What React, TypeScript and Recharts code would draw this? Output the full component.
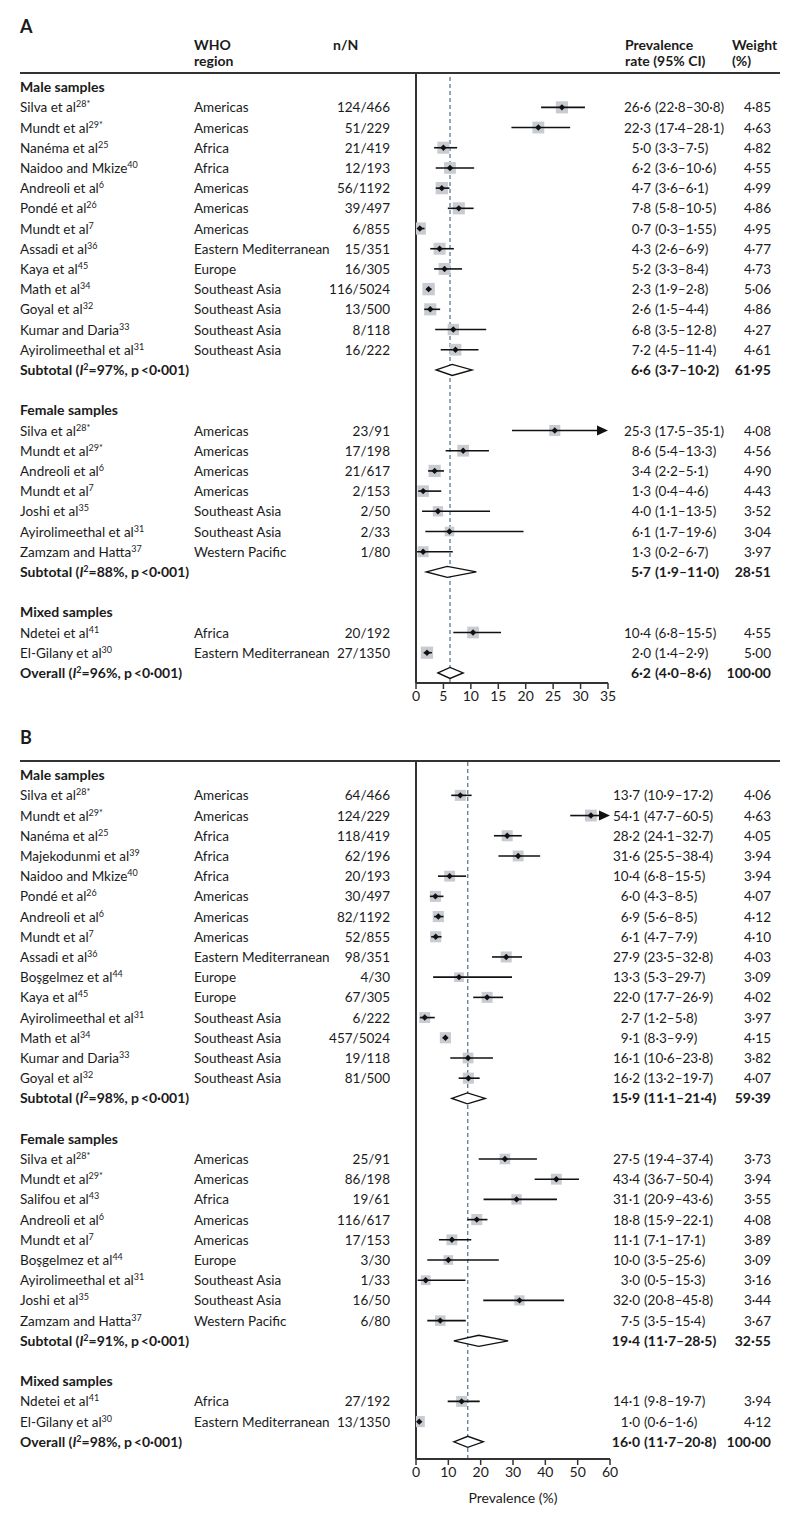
import React from 'react';
import { ScatterChart, Scatter, XAxis, YAxis, ReferenceLine } from 'recharts';

// [author, ref, WHO region, n/N, estimate, lower, upper, weight]
type Study = [string, string, string, string, number, number, number, number];
// [I², estimate, lower, upper, weight]
type Pooled = [number, number, number, number, number];

const maleA: Study[] = [
  ['Silva et al', '28*', 'Americas', '124/466', 26.6, 22.8, 30.8, 4.85],
  ['Mundt et al', '29*', 'Americas', '51/229', 22.3, 17.4, 28.1, 4.63],
  ['Nanéma et al', '25', 'Africa', '21/419', 5.0, 3.3, 7.5, 4.82],
  ['Naidoo and Mkize', '40', 'Africa', '12/193', 6.2, 3.6, 10.6, 4.55],
  ['Andreoli et al', '6', 'Americas', '56/1192', 4.7, 3.6, 6.1, 4.99],
  ['Pondé et al', '26', 'Americas', '39/497', 7.8, 5.8, 10.5, 4.86],
  ['Mundt et al', '7', 'Americas', '6/855', 0.7, 0.3, 1.55, 4.95],
  ['Assadi et al', '36', 'Eastern Mediterranean', '15/351', 4.3, 2.6, 6.9, 4.77],
  ['Kaya et al', '45', 'Europe', '16/305', 5.2, 3.3, 8.4, 4.73],
  ['Math et al', '34', 'Southeast Asia', '116/5024', 2.3, 1.9, 2.8, 5.06],
  ['Goyal et al', '32', 'Southeast Asia', '13/500', 2.6, 1.5, 4.4, 4.86],
  ['Kumar and Daria', '33', 'Southeast Asia', '8/118', 6.8, 3.5, 12.8, 4.27],
  ['Ayirolimeethal et al', '31', 'Southeast Asia', '16/222', 7.2, 4.5, 11.4, 4.61],
];
const femaleA: Study[] = [
  ['Silva et al', '28*', 'Americas', '23/91', 25.3, 17.5, 35.1, 4.08],
  ['Mundt et al', '29*', 'Americas', '17/198', 8.6, 5.4, 13.3, 4.56],
  ['Andreoli et al', '6', 'Americas', '21/617', 3.4, 2.2, 5.1, 4.9],
  ['Mundt et al', '7', 'Americas', '2/153', 1.3, 0.4, 4.6, 4.43],
  ['Joshi et al', '35', 'Southeast Asia', '2/50', 4.0, 1.1, 13.5, 3.52],
  ['Ayirolimeethal et al', '31', 'Southeast Asia', '2/33', 6.1, 1.7, 19.6, 3.04],
  ['Zamzam and Hatta', '37', 'Western Pacific', '1/80', 1.3, 0.2, 6.7, 3.97],
];
const mixedA: Study[] = [
  ['Ndetei et al', '41', 'Africa', '20/192', 10.4, 6.8, 15.5, 4.55],
  ['El-Gilany et al', '30', 'Eastern Mediterranean', '27/1350', 2.0, 1.4, 2.9, 5.0],
];
const maleSubA: Pooled = [97, 6.6, 3.7, 10.2, 61.95];
const femaleSubA: Pooled = [88, 5.7, 1.9, 11.0, 28.51];
const overallA: Pooled = [96, 6.2, 4.0, 8.6, 100];
const ticksA = [0, 5, 10, 15, 20, 25, 30, 35];

const maleB: Study[] = [
  ['Silva et al', '28*', 'Americas', '64/466', 13.7, 10.9, 17.2, 4.06],
  ['Mundt et al', '29*', 'Americas', '124/229', 54.1, 47.7, 60.5, 4.63],
  ['Nanéma et al', '25', 'Africa', '118/419', 28.2, 24.1, 32.7, 4.05],
  ['Majekodunmi et al', '39', 'Africa', '62/196', 31.6, 25.5, 38.4, 3.94],
  ['Naidoo and Mkize', '40', 'Africa', '20/193', 10.4, 6.8, 15.5, 3.94],
  ['Pondé et al', '26', 'Americas', '30/497', 6.0, 4.3, 8.5, 4.07],
  ['Andreoli et al', '6', 'Americas', '82/1192', 6.9, 5.6, 8.5, 4.12],
  ['Mundt et al', '7', 'Americas', '52/855', 6.1, 4.7, 7.9, 4.1],
  ['Assadi et al', '36', 'Eastern Mediterranean', '98/351', 27.9, 23.5, 32.8, 4.03],
  ['Boşgelmez et al', '44', 'Europe', '4/30', 13.3, 5.3, 29.7, 3.09],
  ['Kaya et al', '45', 'Europe', '67/305', 22.0, 17.7, 26.9, 4.02],
  ['Ayirolimeethal et al', '31', 'Southeast Asia', '6/222', 2.7, 1.2, 5.8, 3.97],
  ['Math et al', '34', 'Southeast Asia', '457/5024', 9.1, 8.3, 9.9, 4.15],
  ['Kumar and Daria', '33', 'Southeast Asia', '19/118', 16.1, 10.6, 23.8, 3.82],
  ['Goyal et al', '32', 'Southeast Asia', '81/500', 16.2, 13.2, 19.7, 4.07],
];
const femaleB: Study[] = [
  ['Silva et al', '28*', 'Americas', '25/91', 27.5, 19.4, 37.4, 3.73],
  ['Mundt et al', '29*', 'Americas', '86/198', 43.4, 36.7, 50.4, 3.94],
  ['Salifou et al', '43', 'Africa', '19/61', 31.1, 20.9, 43.6, 3.55],
  ['Andreoli et al', '6', 'Americas', '116/617', 18.8, 15.9, 22.1, 4.08],
  ['Mundt et al', '7', 'Americas', '17/153', 11.1, 7.1, 17.1, 3.89],
  ['Boşgelmez et al', '44', 'Europe', '3/30', 10.0, 3.5, 25.6, 3.09],
  ['Ayirolimeethal et al', '31', 'Southeast Asia', '1/33', 3.0, 0.5, 15.3, 3.16],
  ['Joshi et al', '35', 'Southeast Asia', '16/50', 32.0, 20.8, 45.8, 3.44],
  ['Zamzam and Hatta', '37', 'Western Pacific', '6/80', 7.5, 3.5, 15.4, 3.67],
];
const mixedB: Study[] = [
  ['Ndetei et al', '41', 'Africa', '27/192', 14.1, 9.8, 19.7, 3.94],
  ['El-Gilany et al', '30', 'Eastern Mediterranean', '13/1350', 1.0, 0.6, 1.6, 4.12],
];
const maleSubB: Pooled = [98, 15.9, 11.1, 21.4, 59.39];
const femaleSubB: Pooled = [91, 19.4, 11.7, 28.5, 32.55];
const overallB: Pooled = [98, 16.0, 11.7, 20.8, 100];
const ticksB = [0, 10, 20, 30, 40, 50, 60];

const INK = '#1b1b1b';
const FONT = 'Lato, "Noto Sans", sans-serif';
const FS = 13.5;

type Row =
  | { kind: 'head'; y: number; text: string }
  | { kind: 'study'; y: number; s: Study }
  | { kind: 'sum'; y: number; label: string; v: Pooled };

function buildRows(groups: [string, Study[], Pooled | null][], overall: Pooled): Row[] {
  const rows: Row[] = [];
  let y = 0;
  groups.forEach(([title, studies, sub], gi) => {
    if (gi > 0) y += 1;
    rows.push({ kind: 'head', y: y++, text: title });
    studies.forEach((s) => rows.push({ kind: 'study', y: y++, s }));
    if (sub) rows.push({ kind: 'sum', y: y++, label: 'Subtotal', v: sub });
  });
  rows.push({ kind: 'sum', y: y++, label: 'Overall', v: overall });
  return rows;
}

const fmt = (v: number) => (Number.isInteger(v) ? v.toFixed(1) : String(v)).replace('.', '·');
const fmtW = (v: number) => v.toFixed(2).replace('.', '·');

function RowText({ y, row, peEnd }: { y: number; row: Row; peEnd: number }) {
  const by = y + 5;
  if (row.kind === 'head') {
    return (
      <text x={20} y={by} fontWeight={700} fill={INK} fontSize={14}>
        {row.text}
      </text>
    );
  }
  if (row.kind === 'study') {
    const [name, ref, region, n, est, lo, hi, w] = row.s;
    return (
      <g fill={INK} fontSize={FS}>
        <text x={20} y={by}>
          {name}
          <tspan dy={-5} fontSize={9}>{ref}</tspan>
        </text>
        <text x={194} y={by}>{region}</text>
        <text x={390} y={by} textAnchor="end">{n}</text>
        <text x={peEnd} y={by} textAnchor="end">{fmt(est)}</text>
        <text x={peEnd + 4} y={by}>({fmt(lo)}–{fmt(hi)})</text>
        <text x={771} y={by} textAnchor="end">{fmtW(w)}</text>
      </g>
    );
  }
  const [i2, est, lo, hi, w] = row.v;
  return (
    <g fill={INK} fontSize={14} fontWeight={700}>
      <text x={20} y={by}>
        {row.label} (<tspan fontStyle="italic">I</tspan>
        <tspan dy={-5} fontSize={9}>2</tspan>
        <tspan dy={5}>={i2}%, p{'\u2009'}&lt;0·001)</tspan>
      </text>
      <text x={peEnd} y={by} textAnchor="end">{fmt(est)}</text>
      <text x={peEnd + 4} y={by}>({fmt(lo)}–{fmt(hi)})</text>
      <text x={771} y={by} textAnchor="end">{fmtW(w)}</text>
    </g>
  );
}

type PanelProps = {
  rows: Row[];
  xMax: number;
  ticks: number[];
  pooled: number;
  width: number;
  height: number;
  margin: { top: number; right: number; bottom: number; left: number };
  yDomain: [number, number];
  xHeight: number;
  peEnd: number;
  xLabel?: string;
};

function ForestPanel({ rows, xMax, ticks, pooled, width, height, margin, yDomain, xHeight, peEnd, xLabel }: PanelProps) {
  const studies = rows.filter((r) => r.kind === 'study') as Extract<Row, { kind: 'study' }>[];
  const sums = rows.filter((r) => r.kind === 'sum') as Extract<Row, { kind: 'sum' }>[];

  const points = studies.map((r) => ({ x: r.s[4], y: r.y, w: r.s[7] }));
  const ci = studies.flatMap((r) => [
    { x: r.s[5], y: r.y, arrow: false },
    { x: Math.min(r.s[6], xMax), y: r.y, arrow: r.s[6] > xMax },
  ]);
  const diamonds = sums.flatMap((r) => [
    { x: r.v[2], y: r.y },
    { x: r.v[1], y: r.y },
    { x: r.v[3], y: r.y },
  ]);
  const rowTicks = rows.map((r) => r.y);

  const ciLines = (p: any) => {
    const pts = p.points || [];
    const out: React.ReactNode[] = [];
    for (let i = 0; i + 1 < pts.length; i += 2) {
      const a = pts[i];
      const b = pts[i + 1];
      const arrow = ci[i + 1].arrow;
      out.push(<line key={`l${i}`} x1={a.x} y1={a.y} x2={arrow ? b.x - 8 : b.x} y2={b.y} stroke="#111" strokeWidth={1.6} />);
      if (arrow) {
        out.push(<polygon key={`a${i}`} points={`${b.x},${b.y} ${b.x - 11},${b.y - 5} ${b.x - 11},${b.y + 5}`} fill="#111" />);
      }
    }
    return <g>{out}</g>;
  };

  const diamondShapes = (p: any) => {
    const pts = p.points || [];
    const out: React.ReactNode[] = [];
    for (let i = 0; i + 2 < pts.length; i += 3) {
      const [l, m, h] = [pts[i], pts[i + 1], pts[i + 2]];
      out.push(
        <polygon
          key={i}
          points={`${l.x},${m.y} ${m.x},${m.y - 5.5} ${h.x},${m.y} ${m.x},${m.y + 5.5}`}
          fill="#fff"
          stroke="#111"
          strokeWidth={1.4}
        />
      );
    }
    return <g>{out}</g>;
  };

  return (
    <ScatterChart width={width} height={height} margin={margin}>
      <XAxis
        type="number"
        dataKey="x"
        domain={[0, xMax]}
        allowDataOverflow
        ticks={ticks}
        interval={0}
        height={xHeight}
        axisLine={{ stroke: '#333', strokeWidth: 2 }}
        tickLine={{ stroke: '#333', strokeWidth: 1.5 }}
        tickSize={6}
        tick={{ fill: INK, fontSize: 14 }}
        label={xLabel ? { value: xLabel, position: 'insideBottom', offset: 6, fill: INK, fontSize: 14 } : undefined}
      />
      <YAxis
        type="number"
        dataKey="y"
        domain={yDomain}
        allowDataOverflow
        reversed
        ticks={rowTicks}
        interval={0}
        width={100}
        axisLine={{ stroke: '#333', strokeWidth: 2 }}
        tickLine={false}
        tick={(t: any) => {
          const row = rows.find((r) => r.y === t.payload.value);
          return row ? <RowText key={`r${row.y}`} y={t.y} row={row} peEnd={peEnd} /> : <g />;
        }}
      />
      <ReferenceLine x={pooled} stroke="#5d7b92" strokeWidth={1.3} strokeDasharray="4 3" />
      <Scatter
        data={points}
        isAnimationActive={false}
        shape={(p: any) => {
          const s = 5.5 * Math.sqrt(p.payload.w);
          return <rect x={p.cx - s / 2} y={p.cy - s / 2} width={s} height={s} fill="#c8ccd2" />;
        }}
      />
      <Scatter data={ci} isAnimationActive={false} line={ciLines} shape={() => <g />} />
      <Scatter
        data={points}
        isAnimationActive={false}
        shape={(p: any) => (
          <polygon
            points={`${p.cx - 3.2},${p.cy} ${p.cx},${p.cy - 3.2} ${p.cx + 3.2},${p.cy} ${p.cx},${p.cy + 3.2}`}
            fill="#111"
          />
        )}
      />
      <Scatter data={diamonds} isAnimationActive={false} line={diamondShapes} shape={() => <g />} />
    </ScatterChart>
  );
}

const rowsA = buildRows(
  [
    ['Male samples', maleA, maleSubA],
    ['Female samples', femaleA, femaleSubA],
    ['Mixed samples', mixedA, null],
  ],
  overallA
);
const rowsB = buildRows(
  [
    ['Male samples', maleB, maleSubB],
    ['Female samples', femaleB, femaleSubB],
    ['Mixed samples', mixedB, null],
  ],
  overallB
);

export default function App() {
  return (
    <div style={{ position: 'absolute', left: 0, top: 0, width: 800, height: 1527, background: '#fff', fontFamily: FONT }}>
      <div style={{ position: 'absolute', left: 0, top: 0 }}>
        <ForestPanel
          rows={rowsA}
          xMax={35}
          ticks={ticksA}
          pooled={overallA[1]}
          width={800}
          height={725}
          margin={{ top: 73, right: 192, bottom: 12, left: 316 }}
          yDomain={[-0.7, 29.5]}
          xHeight={30}
          peEnd={651}
        />
      </div>
      <div style={{ position: 'absolute', left: 0, top: 725 }}>
        <ForestPanel
          rows={rowsB}
          xMax={60}
          ticks={ticksB}
          pooled={overallB[1]}
          width={800}
          height={802}
          margin={{ top: 36, right: 190, bottom: 18, left: 316 }}
          yDomain={[-0.7, 33.85]}
          xHeight={50}
          peEnd={640}
          xLabel="Prevalence (%)"
        />
      </div>
      <svg width={800} height={1527} style={{ position: 'absolute', left: 0, top: 0, pointerEvents: 'none' }}>
        <g fill={INK} fontSize={14} fontWeight={700}>
          <text x={20} y={33} fontSize={18}>A</text>
          <text x={194} y={50}>WHO</text>
          <text x={194} y={66}>region</text>
          <text x={333} y={50}>n/N</text>
          <text x={625} y={50}>Prevalence</text>
          <text x={625} y={66}>rate (95% CI)</text>
          <text x={732} y={50}>Weight</text>
          <text x={732} y={66}>(%)</text>
          <text x={20} y={744} fontSize={18}>B</text>
        </g>
        <line x1={20} y1={73} x2={780} y2={73} stroke="#333" strokeWidth={2} />
        <line x1={20} y1={761} x2={780} y2={761} stroke="#333" strokeWidth={2} />
      </svg>
    </div>
  );
}
